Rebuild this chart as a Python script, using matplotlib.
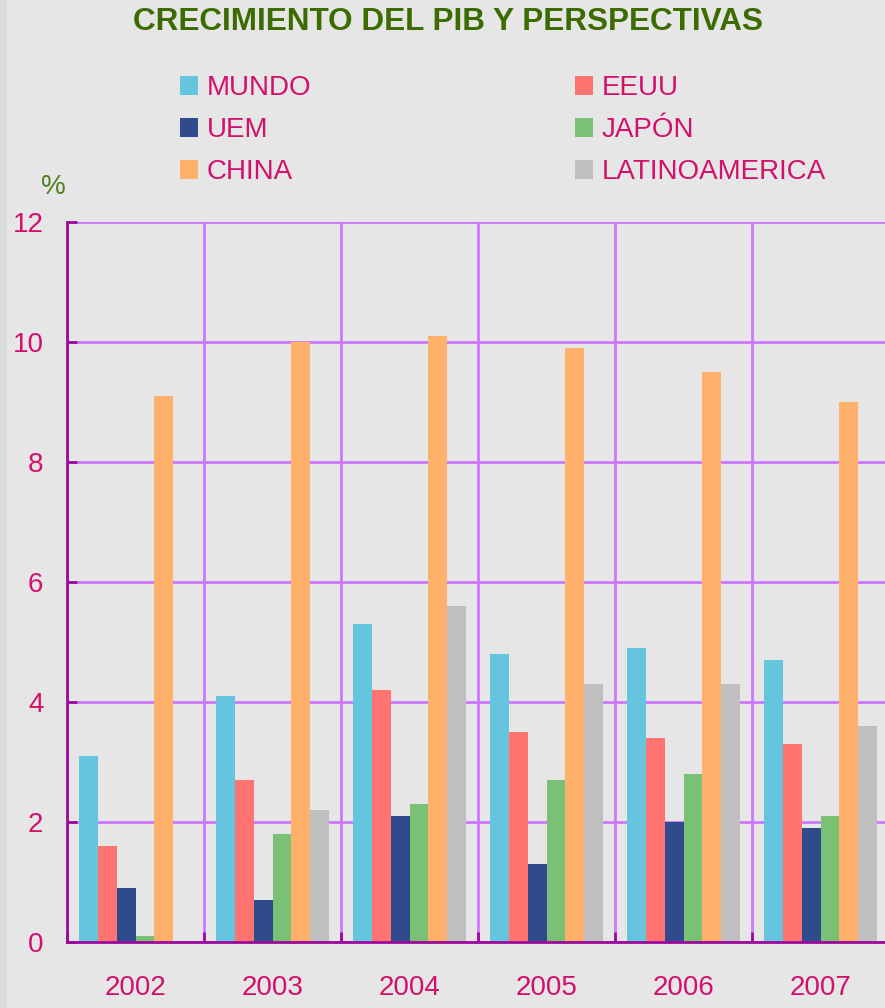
import matplotlib.pyplot as plt
import numpy as np
from matplotlib.patches import Patch, Rectangle

plt.rcParams['font.family'] = ['Liberation Sans', 'DejaVu Sans']

years = ['2002', '2003', '2004', '2005', '2006', '2007']
series = ['MUNDO', 'EEUU', 'UEM', 'JAPÓN', 'CHINA', 'LATINOAMERICA']
mundo = [3.1, 4.1, 5.3, 4.8, 4.9, 4.7]
eeuu = [1.6, 2.7, 4.2, 3.5, 3.4, 3.3]
uem = [0.9, 0.7, 2.1, 1.3, 2.0, 1.9]
japon = [0.1, 1.8, 2.3, 2.7, 2.8, 2.1]
china = [9.1, 10.0, 10.1, 9.9, 9.5, 9.0]
latam = [np.nan, 2.2, 5.6, 4.3, 4.3, 3.6]
colors = ['#66c5de', '#ff7370', '#2f4b8c', '#7bc175', '#ffb06b', '#bfbfbf']

bg = '#e6e6e6'
grid_c = '#cc77ff'
axis_c = '#9c0a9c'
txt_c = '#d3106b'
green = '#3c6b00'

fig = plt.figure(figsize=(8.85, 10.08), dpi=100)
fig.patch.set_facecolor(bg)
fig.patches.append(Rectangle((0, 0), 7 / 885, 1, transform=fig.transFigure,
                             facecolor='#dadada', edgecolor='none'))

ax = fig.add_axes([67 / 885, 66 / 1008, 822 / 885, 720 / 1008])
ax.set_facecolor(bg)

x = np.arange(len(years))
w = 0.137
data = [mundo, eeuu, uem, japon, china, latam]
for k, (vals, c) in enumerate(zip(data, colors)):
    ax.bar(x + (k - 2.5) * w, vals, width=w, color=c, zorder=3)

ax.set_xlim(-0.5, 5.5)
ax.set_ylim(0, 12)
ax.set_yticks(np.arange(0, 13, 2))
ax.set_xticks(x)
ax.set_xticklabels(years)
ax.set_xticks(np.arange(-0.5, 6, 1), minor=True)

ax.grid(axis='y', which='major', color=grid_c, lw=2, zorder=1)
ax.grid(axis='x', which='minor', color=grid_c, lw=2, zorder=1)

for s in ['top', 'right']:
    ax.spines[s].set_visible(False)
for s in ['left', 'bottom']:
    ax.spines[s].set_color(axis_c)
    ax.spines[s].set_linewidth(2)
    ax.spines[s].set_zorder(4)

ax.tick_params(axis='y', direction='in', length=7, width=2, color=axis_c,
               labelcolor=txt_c, labelsize=20, pad=17)
ax.tick_params(axis='x', which='major', length=0, labelcolor=txt_c,
               labelsize=20, pad=24)
ax.tick_params(axis='x', which='minor', direction='in', length=7, width=2,
               color=axis_c)

fig.text(53 / 885, 1 - 187 / 1008, '%', color='#4f7f1f', fontsize=20,
         ha='center', va='center')
fig.text(448 / 885, 1 - 22 / 1008, 'CRECIMIENTO DEL PIB Y PERSPECTIVAS',
         color=green, fontsize=22.7, fontweight='bold', ha='center', va='center')

handles = [Patch(facecolor=c, edgecolor='none') for c in colors]
order = [0, 2, 4, 1, 3, 5]
leg = fig.legend([handles[i] for i in order], [series[i] for i in order],
                 ncol=2, loc='upper left', bbox_to_anchor=(155 / 885, 1 - 50 / 1008),
                 frameon=False, fontsize=20, handlelength=0.65, handleheight=0.65,
                 handletextpad=0.3, labelspacing=0.58, columnspacing=9.5)
for t in leg.get_texts():
    t.set_color(txt_c)

fig.savefig('out.png', dpi=100, facecolor=bg)
